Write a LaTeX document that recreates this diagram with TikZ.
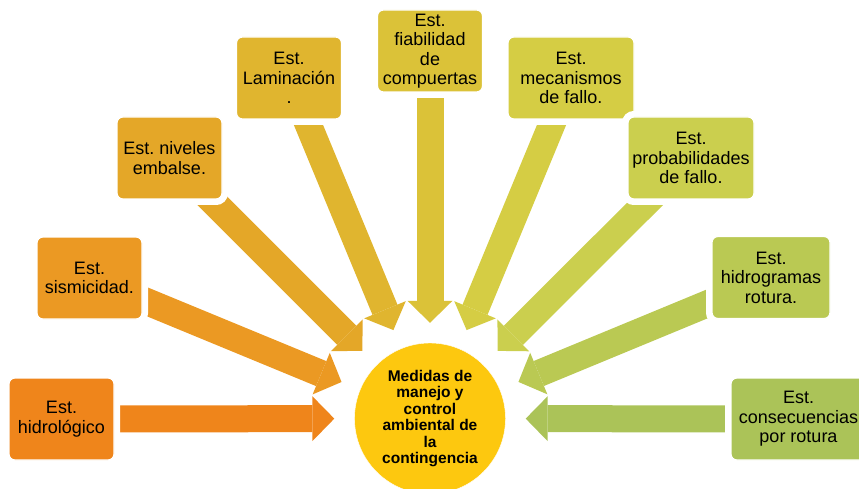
\documentclass[tikz,border=0pt]{standalone}
\usepackage{fontspec}
\setmainfont{Liberation Sans}
\frenchspacing
\usetikzlibrary{arrows.meta}
\definecolor{est_a}{RGB}{239,133,27}
\definecolor{est_b}{RGB}{235,153,35}
\definecolor{est_c}{RGB}{228,167,40}
\definecolor{est_d}{RGB}{224,181,47}
\definecolor{est_e}{RGB}{219,194,56}
\definecolor{est_f}{RGB}{213,205,68}
\definecolor{est_g}{RGB}{203,207,78}
\definecolor{est_h}{RGB}{186,201,83}
\definecolor{est_i}{RGB}{171,195,88}
\definecolor{circ_yell}{RGB}{253,200,15}
\pgfdeclarelayer{bg}
\pgfsetlayers{bg,main}

\begin{document}
\begin{tikzpicture}[x=1pt,y=-1pt]
    \tikzstyle{est}=[draw=white, line width=1.2pt, rounded corners=6pt, minimum height=82pt, minimum width=105pt, inner sep=0pt, align=center, text=black, font=\fontsize{18}{19.5}\selectfont, preaction={draw=white, line width=12pt}]
    \tikzstyle{medidas}=[draw=white, circle, minimum size=151pt, inner sep=0pt, fill=circ_yell, text=black, align=center, font=\bfseries\fontsize{15.5}{16.5}\selectfont]
    \tikzstyle{flecha}=[line width=27pt, shorten >=20pt, -{Triangle[width=45pt,length=22pt,line width=0pt]}]

    \useasboundingbox (0,0) rectangle (859,489);
    \clip (0,0) rectangle (859,489);

    \node[medidas] (M) at (430,418.5) {Medidas de\\manejo y\\control\\ambiental de\\la\\contingencia};

    \node[est, fill=est_a]                    (E1) at (61.5,419)  {Est.\\hidrológico};
    \node[est, fill=est_b]                    (E2) at (89.5,278)  {Est.\\sismicidad.};
    \node[est, fill=est_c]                    (E3) at (169.5,158) {Est. niveles\\embalse.};
    \node[est, fill=est_d]                    (E4) at (289,78)    {Est.\\Laminación\\.};
    \node[est, fill=est_e]                    (E5) at (430,51)    {Est.\\fiabilidad\\de\\compuertas};
    \node[est, fill=est_f, minimum width=126pt] (E6) at (571,78)  {Est.\\mecanismos\\de fallo.};
    \node[est, fill=est_g, minimum width=126pt] (E7) at (691,158) {Est.\\probabilidades\\de fallo.};
    \node[est, fill=est_h, minimum width=118pt] (E8) at (771,277.5) {Est.\\hidrogramas\\rotura.};
    \node[est, fill=est_i, minimum width=135pt] (E9) at (798.5,419) {Est.\\consecuencias\\por rotura};

    \begin{pgfonlayer}{bg}
    \path
     (E1.center) edge[flecha, est_a] (M)
     (E2.center) edge[flecha, est_b] (M)
     (E3.center) edge[flecha, est_c] (M)
     (E4.center) edge[flecha, est_d] (M)
     (E5.center) edge[flecha, est_e] (M)
     (E6.center) edge[flecha, est_f] (M)
     (E7.center) edge[flecha, est_g] (M)
     (E8.center) edge[flecha, est_h] (M)
     (E9.center) edge[flecha, est_i] (M);
    \end{pgfonlayer}
  \end{tikzpicture}
\end{document}
